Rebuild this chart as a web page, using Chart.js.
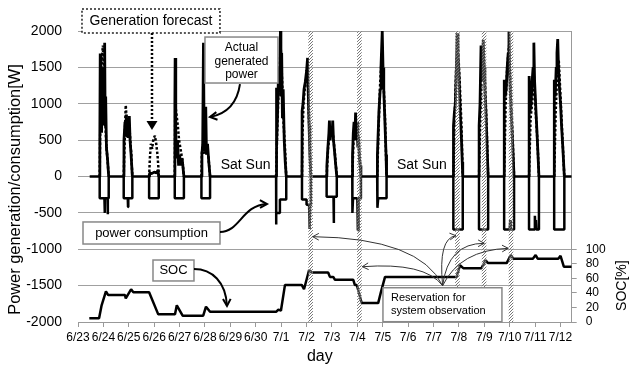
<!DOCTYPE html>
<html>
<head>
<meta charset="utf-8">
<script src="https://cdn.jsdelivr.net/npm/chart.js@4.4.1/dist/chart.umd.min.js"></script>
<style>
  body { margin: 0; background: #fff; }
  #wrap { width: 629px; height: 365px; }
</style>
</head>
<body>
<div id="wrap"><canvas id="chart"></canvas></div>
<script>
// x = days since 6/23, y = W (SOC in %)
const dayLabels = ["6/23", "6/24", "6/25", "6/26", "6/27", "6/28", "6/29", "6/30", "7/1", "7/2",
  "7/3", "7/4", "7/5", "7/6", "7/7", "7/8", "7/9", "7/10", "7/11", "7/12"];

const consumption = [
  [0.46, 0],
  [0.854, 0], [0.854, -300], [1.04, -300], [1.05, -500], [1.06, -300], [1.16, -300], [1.17, -520], [1.18, -300], [1.209, -300], [1.209, 0],
  [1.8, 0], [1.8, -300], [1.96, -300], [1.97, -420], [1.98, -300], [2.14, -300], [2.14, 0],
  [2.8, 0], [2.8, -300], [3.18, -300], [3.18, 0],
  [3.81, 0], [3.81, -300], [4.17, -300], [4.17, 0],
  [4.86, 0], [4.86, -300], [5.2, -300], [5.2, 0],
  [7.8, 0], [7.8, -660], [7.81, -500], [7.95, -500], [7.95, -316], [8.2, -316], [8.2, 0],
  [8.82, 0], [8.82, -316], [9.0, -316], [9.0, -390], [9.1, -390], [9.12, -720], [9.14, -400], [9.17, -400], [9.17, 0],
  [9.79, 0], [9.79, -280], [10.06, -280], [10.07, -640], [10.08, -280], [10.19, -280], [10.19, 0],
  [10.8, 0], [10.8, -300], [10.81, -500], [10.83, -300], [11.0, -300], [11.02, -740], [11.04, -740], [11.05, -300], [11.14, -300], [11.14, 0],
  [11.78, 0], [11.78, -300], [11.8, -430], [11.82, -300], [12.15, -300], [12.15, 0],
  [14.78, 0], [14.78, -730], [15.15, -730], [15.15, 0],
  [15.79, 0], [15.79, -730], [16.15, -730], [16.15, 0],
  [16.78, 0], [16.78, -730], [17.0, -730], [17.02, -600], [17.04, -730], [17.17, -730], [17.17, 0],
  [17.76, 0], [17.76, -730], [17.98, -730], [17.99, -540], [18.01, -700], [18.03, -600], [18.05, -730], [18.15, -730], [18.15, 0],
  [18.75, 0], [18.75, -730], [19.15, -730], [19.15, 0],
  [19.44, 0]
];

const actualGen = [
  [[0.854, 0], [0.86, 550], [0.875, 1690], [0.89, 800], [0.91, 1400], [0.93, 600], [0.95, 1500], [0.97, 700], [1.0, 1300], [1.03, 900], [1.05, 1840], [1.07, 700], [1.09, 1100], [1.12, 400], [1.16, 250], [1.209, 0]],
  [[1.8, 0], [1.81, 500], [1.85, 750], [1.88, 600], [1.9, 850], [1.93, 550], [1.96, 800], [1.99, 650], [2.02, 830], [2.05, 500], [2.09, 300], [2.14, 0]],
  [[2.8, 0], [2.82, 50], [2.9, 40], [3.0, 60], [3.1, 50], [3.15, 90], [3.18, 0]],
  [[3.81, 0], [3.815, 1000], [3.825, 1630], [3.85, 600], [3.88, 250], [3.92, 500], [3.96, 150], [4.0, 300], [4.05, 150], [4.1, 250], [4.17, 0]],
  [[4.86, 0], [4.88, 300], [4.91, 450], [4.94, 1840], [4.97, 400], [5.0, 350], [5.03, 960], [5.06, 300], [5.1, 450], [5.15, 200], [5.2, 0]],
  [[7.8, 0], [7.805, 1220], [7.83, 400], [7.86, 900], [7.9, 1500], [7.94, 1300], [7.97, 2000], [7.99, 1100], [8.02, 1700], [8.05, 800], [8.08, 1200], [8.12, 500], [8.16, 200], [8.2, 0]],
  [[8.82, 0], [8.825, 900], [8.86, 1000], [8.9, 1200], [8.95, 1300], [9.0, 1450], [9.04, 1630], [9.07, 1100], [9.1, 700], [9.13, 300], [9.17, 0]],
  [[9.79, 0], [9.8, 150], [9.84, 400], [9.88, 600], [9.9, 770], [9.93, 500], [9.97, 650], [10.0, 550], [10.03, 770], [10.06, 500], [10.1, 350], [10.15, 150], [10.19, 0]],
  [[10.8, 0], [10.81, 300], [10.84, 600], [10.87, 750], [10.9, 500], [10.93, 880], [10.96, 600], [10.99, 750], [11.02, 400], [11.05, 550], [11.08, 250], [11.11, 150], [11.14, 0]],
  [[11.78, 0], [11.79, 300], [11.85, 900], [11.9, 1200], [11.93, 1500], [11.96, 1800], [11.98, 2000], [12.01, 1500], [12.04, 1200], [12.07, 900], [12.1, 600], [12.13, 300], [12.15, 0]],
  [[14.78, 0], [14.785, 700], [14.82, 880], [14.86, 1000], [14.9, 1500], [14.93, 1970], [14.96, 1700], [15.0, 1400], [15.03, 1100], [15.06, 800], [15.1, 500], [15.13, 200], [15.15, 0]],
  [[15.79, 0], [15.795, 700], [15.83, 1000], [15.87, 1800], [15.9, 1300], [15.93, 1600], [15.96, 1880], [15.99, 1500], [16.02, 1200], [16.06, 900], [16.1, 500], [16.15, 0]],
  [[16.78, 0], [16.785, 1330], [16.82, 1100], [16.86, 1200], [16.9, 1500], [16.94, 1700], [16.97, 1990], [17.0, 1400], [17.04, 1000], [17.08, 700], [17.12, 400], [17.17, 0]],
  [[17.76, 0], [17.765, 1380], [17.8, 900], [17.84, 1000], [17.88, 1300], [17.92, 1500], [17.95, 1840], [17.98, 1300], [18.02, 1000], [18.06, 700], [18.1, 400], [18.15, 0]],
  [[18.75, 0], [18.755, 1330], [18.79, 1100], [18.83, 1500], [18.86, 1700], [18.89, 1890], [18.92, 1500], [18.96, 1200], [19.0, 1000], [19.04, 700], [19.09, 400], [19.15, 0]]
];

const forecastGen = [
  [[0.854, 0], [0.87, 500], [0.92, 1500], [0.98, 1800], [1.04, 1200], [1.08, 700], [1.12, 400], [1.17, 200], [1.209, 0]],
  [[1.8, 0], [1.83, 400], [1.88, 980], [1.93, 700], [1.98, 800], [2.04, 600], [2.1, 300], [2.14, 0]],
  [[2.8, 0], [2.83, 250], [2.87, 450], [2.92, 380], [2.97, 520], [3.03, 560], [3.08, 450], [3.13, 300], [3.17, 100], [3.18, 0]],
  [[3.81, 0], [3.83, 990], [3.88, 850], [3.93, 700], [3.98, 500], [4.05, 350], [4.12, 200], [4.17, 0]],
  [[4.86, 0], [4.88, 350], [4.93, 450], [4.98, 300], [5.03, 450], [5.08, 380], [5.14, 250], [5.2, 0]],
  [[7.8, 0], [7.85, 700], [7.92, 1400], [7.98, 1800], [8.04, 1300], [8.1, 700], [8.15, 400], [8.2, 0]],
  [[8.82, 0], [8.84, 600], [8.88, 1000], [8.94, 1250], [9.0, 1400], [9.06, 1200], [9.12, 500], [9.17, 0]],
  [[9.79, 0], [9.85, 400], [9.92, 600], [9.98, 650], [10.05, 550], [10.12, 300], [10.19, 0]],
  [[10.8, 0], [10.85, 500], [10.92, 750], [10.98, 650], [11.05, 450], [11.1, 250], [11.14, 0]],
  [[11.78, 0], [11.84, 700], [11.9, 1300], [11.97, 1700], [12.03, 1300], [12.09, 800], [12.15, 0]],
  [[14.78, 0], [14.84, 900], [14.9, 1600], [14.96, 1800], [15.03, 1300], [15.1, 700], [15.15, 0]],
  [[15.79, 0], [15.85, 900], [15.92, 1500], [15.97, 1700], [16.04, 1200], [16.1, 600], [16.15, 0]],
  [[16.78, 0], [16.84, 1000], [16.9, 1500], [16.97, 1800], [17.04, 1200], [17.11, 600], [17.17, 0]],
  [[17.76, 0], [17.82, 800], [17.88, 1000], [17.95, 1400], [18.02, 900], [18.09, 500], [18.15, 0]],
  [[18.75, 0], [18.81, 900], [18.87, 1400], [18.93, 1600], [19.0, 1100], [19.08, 500], [19.15, 0]]
];

const socValues = [
  [0.445, 5], [0.83, 5], [0.93, 23], [1.1, 42], [1.19, 37], [1.85, 37], [1.88, 32.5], [2.09, 45], [2.18, 41], [2.8, 41],
  [3.16, 10.5], [3.82, 10.5], [3.89, 23], [4.12, 8.7], [4.93, 8.7], [5.04, 21], [5.2, 14], [7.8, 14], [7.89, 17], [7.99, 15.5],
  [8.15, 51], [8.81, 51], [8.9, 45], [9.1, 71.5], [9.2, 68], [9.85, 68], [9.92, 62], [10.05, 62], [10.12, 58], [10.84, 58],
  [10.9, 51], [10.98, 51], [11.17, 26], [11.82, 26], [11.92, 40], [12.09, 62], [14.91, 62], [15.04, 78], [15.17, 74], [15.89, 74],
  [16.05, 85], [16.14, 81], [16.88, 81], [17.04, 92], [17.14, 87], [17.91, 87], [18.02, 92], [18.1, 87], [18.91, 87], [19.0, 91],
  [19.13, 76], [19.44, 76]
];

const reservationDays = [9.16, 11.08, 14.94, 15.99, 17.05];

const FONT = "'Liberation Sans', Arial, sans-serif";

function toXY(list) {
  return list.map(p => ({ x: p[0], y: p[1] }));
}
// days joined with a gap between them
function joinDays(days) {
  const out = [];
  days.forEach((d, i) => {
    if (i) out.push({ x: d[0][0], y: null });
    out.push(...toXY(d));
  });
  return out;
}

function arrowHead(ctx, fx, fy, tx, ty, size, filled) {
  const a = Math.atan2(ty - fy, tx - fx);
  ctx.beginPath();
  ctx.moveTo(tx - size * Math.cos(a - 0.5), ty - size * Math.sin(a - 0.5));
  ctx.lineTo(tx, ty);
  ctx.lineTo(tx - size * Math.cos(a + 0.5), ty - size * Math.sin(a + 0.5));
  if (filled) { ctx.closePath(); ctx.fill(); } else ctx.stroke();
}

function box(ctx, x1, y1, x2, y2, dashed) {
  ctx.save();
  ctx.fillStyle = "#fff";
  ctx.fillRect(x1, y1, x2 - x1, y2 - y1);
  ctx.strokeStyle = dashed ? "#222" : "#888";
  ctx.lineWidth = 1.5;
  if (dashed) ctx.setLineDash([2, 2]);
  ctx.strokeRect(x1, y1, x2 - x1, y2 - y1);
  ctx.restore();
}

let hatch = null;
function hatchPattern(ctx) {
  if (hatch) return hatch;
  const c = document.createElement("canvas");
  c.width = 3; c.height = 3;
  const g = c.getContext("2d");
  g.fillStyle = "rgba(255,255,255,0.25)";
  g.fillRect(0, 0, 3, 3);
  g.strokeStyle = "#777";
  g.lineWidth = 1;
  g.beginPath();
  g.moveTo(0, 3); g.lineTo(3, 0);
  g.moveTo(-1, 1); g.lineTo(1, -1);
  g.moveTo(2, 4); g.lineTo(4, 2);
  g.stroke();
  hatch = ctx.createPattern(c, "repeat");
  return hatch;
}

const notes = {
  id: "notes",
  afterDatasetsDraw(chart) {
    const { ctx, chartArea: area, scales } = chart;
    const X = v => scales.x.getPixelForValue(v);
    const Y = v => scales.y.getPixelForValue(v);
    ctx.save();

    // reservation bands
    ctx.fillStyle = hatchPattern(ctx);
    reservationDays.forEach(d => {
      const l = X(d - 0.09), r = X(d + 0.09);
      ctx.fillRect(l, area.top, r - l, area.bottom - area.top);
    });

    ctx.fillStyle = "#000";
    ctx.textBaseline = "middle";

    // generation forecast
    box(ctx, X(0.157), Y(2302), X(5.59), Y(1973), true);
    ctx.font = "14px " + FONT;
    ctx.textAlign = "center";
    ctx.fillText("Generation forecast", X(2.874), Y(2137));
    ctx.save();
    ctx.strokeStyle = "#000";
    ctx.lineWidth = 2.5;
    ctx.setLineDash([2, 2]);
    ctx.beginPath();
    ctx.moveTo(X(2.913), Y(1973));
    ctx.lineTo(X(2.913), Y(640) - 7);
    ctx.stroke();
    ctx.restore();
    ctx.beginPath();
    ctx.moveTo(X(2.913) - 5.5, Y(640) - 9);
    ctx.lineTo(X(2.913) + 5.5, Y(640) - 9);
    ctx.lineTo(X(2.913), Y(640));
    ctx.closePath();
    ctx.fill();

    // actual generated power
    box(ctx, X(5.0), Y(1917), X(7.874), Y(1285), false);
    ctx.font = "12px " + FONT;
    ctx.fillText("Actual", X(6.437), Y(1766));
    ctx.fillText("generated", X(6.437), Y(1574));
    ctx.fillText("power", X(6.437), Y(1395));

    ctx.strokeStyle = "#000";
    ctx.lineWidth = 2;
    ctx.beginPath();
    ctx.moveTo(X(6.378), Y(1271));
    ctx.quadraticCurveTo(X(6.22), Y(886), X(5.197), Y(818));
    ctx.stroke();
    arrowHead(ctx, X(6.0), Y(860), X(5.197), Y(818), 8, false);

    // weekends
    ctx.font = "14px " + FONT;
    ctx.textAlign = "left";
    ctx.fillText("Sat Sun", X(5.618), Y(158));
    ctx.fillText("Sat Sun", X(12.56), Y(158));

    // power consumption
    box(ctx, X(0.197), Y(-625), X(5.591), Y(-928), false);
    ctx.font = "13px " + FONT;
    ctx.textAlign = "center";
    ctx.fillText("power consumption", X(2.894), Y(-777));
    ctx.beginPath();
    ctx.moveTo(X(5.591), Y(-763));
    ctx.bezierCurveTo(X(6.378), Y(-763), X(6.457), Y(-392), X(7.441), Y(-378));
    ctx.stroke();
    arrowHead(ctx, X(6.9), Y(-380), X(7.441), Y(-378), 8, false);

    // SOC
    box(ctx, X(2.953), Y(-1148), X(4.567), Y(-1436), false);
    ctx.fillText("SOC", X(3.76), Y(-1292));
    ctx.beginPath();
    ctx.moveTo(X(4.567), Y(-1271));
    ctx.bezierCurveTo(X(5.276), Y(-1271), X(5.827), Y(-1450), X(5.866), Y(-1780));
    ctx.stroke();
    arrowHead(ctx, X(5.85), Y(-1550), X(5.866), Y(-1780), 8, false);

    // reservation arrows
    ctx.strokeStyle = "#333";
    ctx.lineWidth = 1;
    const o = [14.358, -1501];
    [
      [9.24, -827, 13.465, -845],
      [11.193, -1240, 13.661, -1175],
      [14.882, -814, 14.173, -845],
      [15.996, -918, 14.567, -918],
      [16.941, -987, 15.039, -1010]
    ].forEach(a => {
      ctx.beginPath();
      ctx.moveTo(X(o[0]), Y(o[1]));
      ctx.quadraticCurveTo(X(a[2]), Y(a[3]), X(a[0]), Y(a[1]));
      ctx.stroke();
      arrowHead(ctx, X(a[2]), Y(a[3]), X(a[0]), Y(a[1]), 7, false);
    });

    box(ctx, X(12.008), Y(-1529), X(16.693), Y(-1996), false);
    ctx.font = "11px " + FONT;
    ctx.textAlign = "left";
    ctx.fillText("Reservation for", X(12.323), Y(-1670));
    ctx.fillText("system observation", X(12.323), Y(-1849));

    // axis titles
    ctx.font = "16.4px " + FONT;
    ctx.textAlign = "center";
    ctx.save();
    ctx.translate(15, (area.top + area.bottom) / 2 + 13);
    ctx.rotate(-Math.PI / 2);
    ctx.fillText("Power generation/consumption[W]", 0, 0);
    ctx.restore();

    ctx.font = "14px " + FONT;
    ctx.save();
    ctx.translate(area.right + 50, scales.y2.getPixelForValue(50));
    ctx.rotate(-Math.PI / 2);
    ctx.fillText("SOC[%]", 0, 0);
    ctx.restore();

    ctx.font = "16px " + FONT;
    ctx.fillText("day", (area.left + area.right) / 2 - 5, area.bottom + 35);

    ctx.restore();
  }
};

const lineStyle = { pointRadius: 0, tension: 0, borderJoinStyle: "bevel", spanGaps: false };

new Chart(document.getElementById("chart"), {
  type: "line",
  data: {
    datasets: [
      Object.assign({ label: "Generation forecast", data: joinDays(forecastGen), borderColor: "#000", borderWidth: 2.5, borderDash: [2.5, 2] }, lineStyle),
      Object.assign({ label: "Actual generated power", data: joinDays(actualGen), borderColor: "#000", borderWidth: 2.8 }, lineStyle),
      Object.assign({ label: "power consumption", data: toXY(consumption), borderColor: "#000", borderWidth: 2.5 }, lineStyle),
      Object.assign({ label: "SOC", data: toXY(socValues), borderColor: "#000", borderWidth: 2.5, yAxisID: "y2" }, lineStyle)
    ]
  },
  options: {
    responsive: true,
    maintainAspectRatio: false,
    animation: false,
    layout: { padding: { top: 31, left: 0, right: 0, bottom: 0 } },
    plugins: { legend: { display: false }, tooltip: { enabled: false } },
    scales: {
      x: {
        type: "linear",
        min: 0,
        max: 19.44,
        afterFit: s => { s.height = 43; },
        afterBuildTicks: s => { s.ticks = dayLabels.map((_, i) => ({ value: i })); },
        ticks: {
          autoSkip: false,
          maxRotation: 0,
          padding: 3,
          color: "#000",
          font: { family: FONT, size: 12 },
          callback: v => dayLabels[v]
        },
        grid: { drawOnChartArea: false, tickLength: 5, color: "#999" },
        border: { color: "#999" }
      },
      y: {
        min: -2000,
        max: 2000,
        afterFit: s => { s.width = 78; },
        ticks: {
          stepSize: 500,
          padding: 16,
          color: "#000",
          font: { family: FONT, size: 14 },
          callback: v => String(v)
        },
        grid: { color: "#a0a0a0", drawTicks: false },
        border: { display: false }
      },
      y2: {
        position: "right",
        min: 0,
        max: 400,
        afterFit: s => { s.width = 57.3; },
        afterBuildTicks: s => { s.ticks = s.ticks.filter(t => t.value <= 100); },
        ticks: {
          stepSize: 20,
          padding: 9,
          color: "#000",
          font: { family: FONT, size: 12 },
          callback: v => String(v)
        },
        grid: { drawOnChartArea: false, tickLength: 5, color: "#999" },
        border: { color: "#999" }
      }
    }
  },
  plugins: [notes]
});
</script>
</body>
</html>
